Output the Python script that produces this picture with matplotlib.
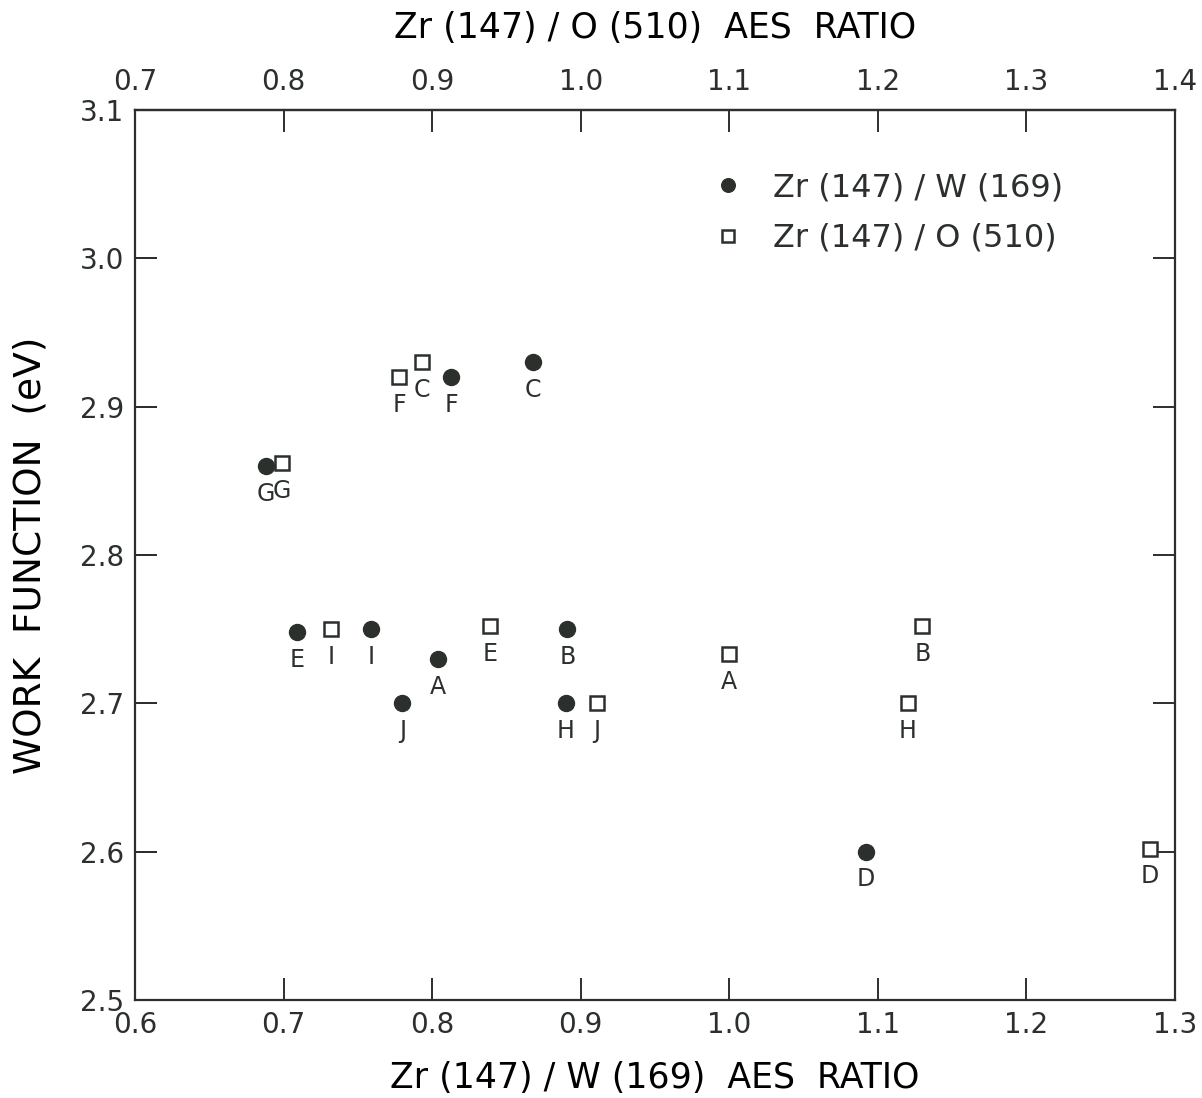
import numpy as np
import matplotlib
matplotlib.use('Agg')
import matplotlib.pyplot as plt
from matplotlib.ticker import FormatStrFormatter

# Zr(147)/W(169) ratio vs work function (filled circles, bottom axis)
w_labels = ['A', 'B', 'C', 'D', 'E', 'F', 'G', 'H', 'I', 'J']
w_ratio = [0.804, 0.891, 0.868, 1.092, 0.709, 0.813, 0.688, 0.890, 0.759, 0.780]
w_phi = [2.73, 2.75, 2.93, 2.60, 2.748, 2.92, 2.86, 2.70, 2.75, 2.70]

# Zr(147)/O(510) ratio vs work function (open squares, top axis)
o_labels = ['A', 'B', 'C', 'D', 'E', 'F', 'G', 'H', 'I', 'J']
o_ratio = [1.100, 1.230, 0.893, 1.383, 0.939, 0.878, 0.799, 1.220, 0.832, 1.011]
o_phi = [2.733, 2.752, 2.93, 2.602, 2.752, 2.92, 2.862, 2.70, 2.75, 2.70]

w_ticks = [0.6, 0.7, 0.8, 0.9, 1.0, 1.1, 1.2, 1.3]
o_ticks = [0.7, 0.8, 0.9, 1.0, 1.1, 1.2, 1.3, 1.4]
phi_ticks = [2.5, 2.6, 2.7, 2.8, 2.9, 3.0, 3.1]


# top scale runs 0.7-1.4 over the same width as the bottom 0.6-1.3
def w_to_o(x):
    return np.asarray(x) + 0.1


def o_to_w(x):
    return np.asarray(x) - 0.1


ink = '#2b302d'
plt.rcParams['font.family'] = ['DejaVu Sans']
plt.rcParams['text.color'] = ink
plt.rcParams['axes.edgecolor'] = ink
plt.rcParams['xtick.color'] = ink
plt.rcParams['ytick.color'] = ink
plt.rcParams['xtick.direction'] = 'in'
plt.rcParams['ytick.direction'] = 'in'

fig = plt.figure(figsize=(12.02, 10.98), dpi=100)
ax = fig.add_axes([0.1123, 0.0893, 0.8652, 0.8105])

ax.set_xlim(0.6, 1.3)
ax.set_ylim(2.5, 3.1)
ax.set_xticks(w_ticks)
ax.set_yticks(phi_ticks)
ax.xaxis.set_major_formatter(FormatStrFormatter('%.1f'))
ax.yaxis.set_major_formatter(FormatStrFormatter('%.1f'))
ax.yaxis.set_ticks_position('both')
for s in ax.spines.values():
    s.set_linewidth(1.6)

top = ax.secondary_xaxis('top', functions=(w_to_o, o_to_w))
top.set_xticks(o_ticks)
top.xaxis.set_major_formatter(FormatStrFormatter('%.1f'))

h1, = ax.plot(w_ratio, w_phi, 'o', color=ink, markersize=11.5, linestyle='none')
o_on_w = o_to_w(o_ratio)
h2, = ax.plot(o_on_w, o_phi, 's', markerfacecolor='white', markeredgecolor=ink,
              markeredgewidth=1.8, markersize=10, linestyle='none')

for lab, x, y in zip(w_labels, w_ratio, w_phi):
    ax.annotate(lab, (x, y), xytext=(0, -20), textcoords='offset points',
                ha='center', va='center', fontsize=17)
for lab, x, y in zip(o_labels, o_on_w, o_phi):
    ax.annotate(lab, (x, y), xytext=(0, -20), textcoords='offset points',
                ha='center', va='center', fontsize=17)

ax.set_xlabel('Zr (147) / W (169)  AES  RATIO', fontsize=25, labelpad=16)
top.set_xlabel('Zr (147) / O (510)  AES  RATIO', fontsize=25, labelpad=22)
ax.set_ylabel('WORK  FUNCTION  (eV)', fontsize=27, labelpad=22)

leg = ax.legend([h1, h2], ['Zr (147) / W (169)', 'Zr (147) / O (510)'],
                loc='upper left', bbox_to_anchor=(0.518, 0.962), frameon=False,
                fontsize=23, handletextpad=0.6, handlelength=1.6,
                labelspacing=0.6, markerscale=0.85)

# inward ticks on all four sides
ax.tick_params(axis='x', direction='in', length=16, width=1.4, labelsize=20, pad=8)
ax.tick_params(axis='y', direction='in', length=16, width=1.4, labelsize=20, pad=8,
               left=True, right=True, labelleft=True, labelright=False)
top.tick_params(axis='x', direction='in', length=16, width=1.4, labelsize=20, pad=10)
top.spines['top'].set_linewidth(1.6)

# left-hand tick marks drawn as short segments off the y scale
ax.hlines(phi_ticks[1:-1], 0, 0.021, transform=ax.get_yaxis_transform(),
          color=ink, linewidth=1.4, clip_on=False, zorder=3)

fig.savefig('out.png', dpi=100)
